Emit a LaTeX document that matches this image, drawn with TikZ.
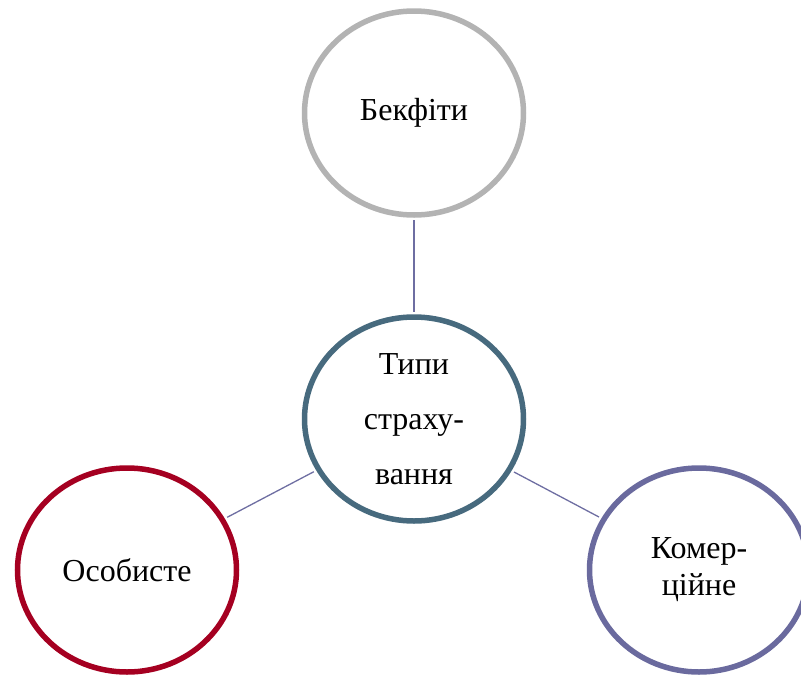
\documentclass[tikz,border=0pt]{standalone}
\usepackage{fontspec}
\setmainfont{Liberation Serif}
\usetikzlibrary{shapes.geometric}

\definecolor{ringgrey}{HTML}{B3B3B3}
\definecolor{ringslate}{HTML}{476A7E}
\definecolor{ringred}{HTML}{A50021}
\definecolor{ringviolet}{HTML}{6A6A9E}
\definecolor{linkviolet}{HTML}{6E6EA2}

\begin{document}
\begin{tikzpicture}
[x=1pt,y=-1pt,%
  nodedecorate/.style={shape=ellipse,draw,line width=5.5pt,fill=white,%
    minimum width=219pt,minimum height=204pt,inner sep=0pt,align=center},%
  linedecorate/.style={-,line width=1.3pt,draw=linkviolet,%
    shorten <=2.7pt,shorten >=2.7pt}]
\useasboundingbox (0,0) rectangle (801,678);
%% nodes or vertices
\foreach \nodename/\x/\y/\col/\lsk/\txt in {top/414/113/ringgrey/55/{Бекфіти},
  center/414/419/ringslate/55/{Типи\\страху-\\вання},
  left/127/570/ringred/55/{Особисте},
  right/699/570/ringviolet/37/{Комер-\\ційне}}
{
  \node (\nodename) at (\x,\y) [nodedecorate,draw=\col,
    font=\fontsize{32}{\lsk}\selectfont] {\txt};
}
%% edges or lines
\path
\foreach \startnode/\endnode in {center/top, center/left, center/right}
{
  (\startnode) edge[linedecorate] (\endnode)
};
\end{tikzpicture}
\end{document}
